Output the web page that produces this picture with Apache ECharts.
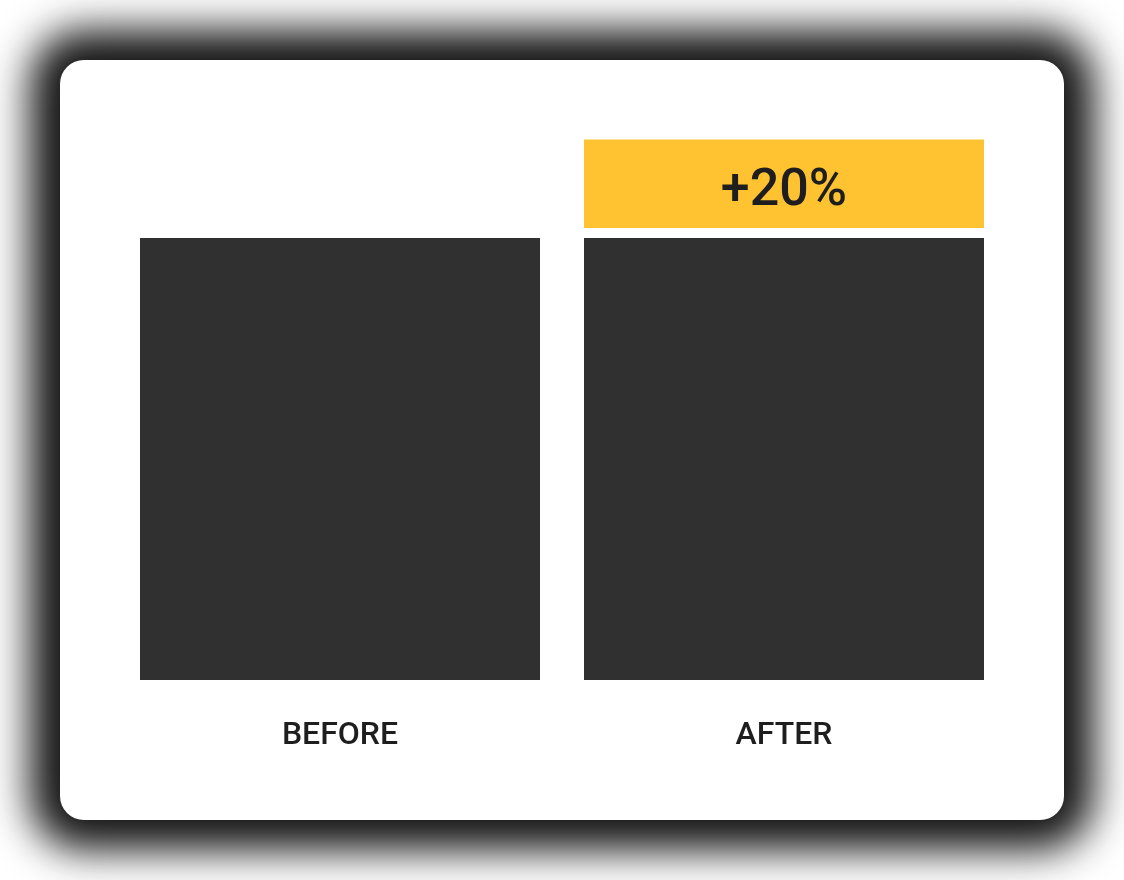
<!DOCTYPE html>
<html>
<head>
<meta charset="utf-8">
<script src="https://cdn.jsdelivr.net/npm/echarts@6/dist/echarts.min.js"></script>
<style>
  html, body { margin: 0; padding: 0; background: #ffffff; }
  #wrap { position: relative; width: 1124px; height: 880px; overflow: hidden; background: #fff; }
  #card { position: absolute; left: 60px; top: 60px; width: 1004px; height: 760px; background: #fff;
          border-radius: 24px; box-shadow: 0 0 40px 30px rgba(0,0,0,0.92); }
  #chart { position: absolute; left: 0; top: 0; width: 1124px; height: 880px; }
</style>
</head>
<body>
<div id="wrap">
  <div id="card"></div>
  <div id="chart"></div>
</div>
<script>
// Data
var categories = ['BEFORE', 'AFTER'];
var baseValues = [100, 100];
var increaseValues = [null, 20];
var increaseLabels = ['', '+20%'];

var chart = echarts.init(document.getElementById('chart'), null, { renderer: 'canvas' });

var DARK = '#303030';
var YELLOW = '#FFC230';
var GAP = 10;
var BAR_W = 400;

var option = {
  backgroundColor: 'transparent',
  animation: false,
  grid: { left: 118, right: 118, top: 127.5, bottom: 200, containLabel: false },
  xAxis: {
    type: 'category',
    data: categories,
    axisLine: { show: false },
    axisTick: { show: false },
    axisLabel: {
      margin: 40,
      fontFamily: 'Roboto',
      fontWeight: 500,
      fontSize: 32,
      color: '#1e1e1e'
    }
  },
  yAxis: {
    type: 'value',
    min: 0,
    max: 125,
    show: false,
    splitLine: { show: false }
  },
  series: [
    {
      type: 'bar',
      data: baseValues,
      barWidth: BAR_W,
      itemStyle: { color: DARK },
      stack: 'total'
    },
    {
      type: 'custom',
      clip: false,
      data: increaseValues.map(function (v, i) { return [i, baseValues[i], v]; }),
      encode: { x: 0, y: [1, 2] },
      renderItem: function (params, api) {
        var inc = api.value(2);
        if (inc == null || isNaN(inc)) return null;
        var idx = api.value(0);
        var base = api.value(1);
        var p0 = api.coord([idx, base]);
        var p1 = api.coord([idx, base + inc]);
        var h = p0[1] - p1[1];
        return {
          type: 'rect',
          shape: { x: p0[0] - BAR_W / 2, y: p1[1] - GAP, width: BAR_W, height: h },
          style: { fill: YELLOW },
          textContent: {
            style: {
              text: increaseLabels[params.dataIndex],
              fontFamily: 'Roboto',
              fontWeight: 500,
              fontSize: 52,
              fill: '#1e1e1e'
            }
          },
          textConfig: { position: 'inside', offset: [0, 8] }
        };
      }
    }
  ]
};
chart.setOption(option);
</script>
</body>
</html>
